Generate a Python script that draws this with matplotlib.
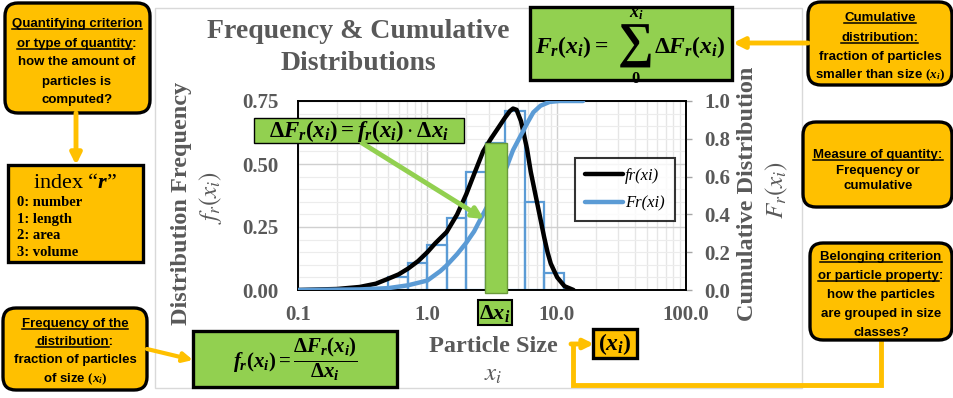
import matplotlib
matplotlib.use('Agg')
import matplotlib.pyplot as plt
from matplotlib.transforms import Affine2D
from matplotlib.patches import FancyBboxPatch, Rectangle, FancyArrowPatch
from matplotlib.lines import Line2D
import numpy as np

# ---------------- data ----------------
bin_edges = [0.5, 0.707, 1.0, 1.414, 2.0, 2.828, 4.0, 5.657, 8.0, 11.31]
bin_freq = [0.05, 0.107, 0.18, 0.286, 0.47, 0.585, 0.71, 0.35, 0.067]
highlight_bin = 5

fr_x = [0.1, 0.2, 0.3, 0.4, 0.5, 0.6, 0.71, 0.85, 1.0, 1.15, 1.41, 1.7, 2.0, 2.3, 2.7,
        3.1, 3.55, 4.0, 4.35, 4.6, 4.9, 5.3, 5.9, 6.3, 7.1, 8.0, 8.5, 9.0, 10.1, 11.5, 13.5]
fr_y = [0.0, 0.004, 0.012, 0.025, 0.045, 0.062, 0.085, 0.115, 0.15, 0.185, 0.23, 0.30, 0.38,
        0.46, 0.55, 0.60, 0.645, 0.685, 0.71, 0.72, 0.715, 0.67, 0.56, 0.47, 0.34, 0.21, 0.15,
        0.105, 0.05, 0.015, 0.0]

Fr_x = [0.1, 0.3, 0.5, 0.71, 1.0, 1.26, 1.41, 1.7, 2.0, 2.3, 2.6, 3.0, 3.5, 4.1, 4.6, 5.3,
        6.0, 6.6, 7.5, 8.8, 10.5, 16]
Fr_y = [0.0, 0.003, 0.01, 0.025, 0.05, 0.10, 0.13, 0.19, 0.25, 0.31, 0.38, 0.46, 0.56, 0.65,
        0.74, 0.82, 0.89, 0.94, 0.975, 0.995, 1.0, 1.0]

x_ticks = [0.1, 1, 10, 100]
x_ticklabels = ["0.1", "1.0", "10.0", "100.0"]
left_ticks = [0.0, 0.25, 0.50, 0.75]
left_ticklabels = ["0.00", "0.25", "0.50", "0.75"]
right_ticks = [0.0, 0.2, 0.4, 0.6, 0.8, 1.0]
right_ticklabels = ["0.0", "0.2", "0.4", "0.6", "0.8", "1.0"]

# ---------------- style ----------------
plt.rcParams['mathtext.fontset'] = 'custom'
plt.rcParams['mathtext.rm'] = 'Liberation Serif:bold'
plt.rcParams['mathtext.it'] = 'Liberation Serif:italic:bold'
plt.rcParams['mathtext.bf'] = 'Liberation Serif:bold'

SANS = ['Liberation Sans', 'DejaVu Sans']
SERIF = ['Liberation Serif', 'DejaVu Serif']
ORANGE = '#FFC000'
GREEN = '#92D050'
BLUE = '#5B9BD5'
GRAY = '#595959'

W, H = 954, 398
fig = plt.figure(figsize=(W / 100, H / 100), dpi=100)
fig.patch.set_facecolor('white')
T = Affine2D().scale(1 / W, -1 / H).translate(0, 1) + fig.transFigure

# chart frame
fig.add_artist(Rectangle((155, 8), 647, 380, transform=T, fc='white', ec='#d9d9d9', lw=1, zorder=0))

# ---------------- axes ----------------
ax = fig.add_axes([298 / W, 1 - 290 / H, 388 / W, 189 / H])
ax.set_xscale('log')
ax.set_xlim(0.1, 100)
ax.set_ylim(0, 0.75)
ax.set_facecolor('none')
ax.grid(True, which='major', axis='x', color='#d0d0d0', lw=1.0)
ax.grid(True, which='minor', axis='x', color='#e6e6e6', lw=1.0)
ax.set_yticks(left_ticks)
ax.set_yticklabels(left_ticklabels)
ax.set_yticks(np.arange(0, 0.76, 0.05), minor=True)
ax.grid(True, which='major', axis='y', color='#d0d0d0', lw=1.0)
ax.grid(True, which='minor', axis='y', color='#ececec', lw=0.8)
ax.set_axisbelow(True)
ax.set_xticks(x_ticks)
ax.set_xticklabels(x_ticklabels)
ax.tick_params(axis='both', which='both', length=0)
ax.tick_params(axis='y', pad=14)
ax.tick_params(axis='x', pad=11)
for lab in ax.get_xticklabels() + ax.get_yticklabels():
    lab.set_fontfamily(SERIF)
    lab.set_fontweight('bold')
    lab.set_fontsize(15)
    lab.set_color(GRAY)
for s in ax.spines.values():
    s.set_color('black')
    s.set_linewidth(1.2)

edges = np.array(bin_edges)
ax.bar(edges[:-1], bin_freq, width=np.diff(edges), align='edge', fill=False,
       edgecolor=BLUE, lw=1.6, zorder=2)
l1, = ax.plot(fr_x, fr_y, color='black', lw=3.2, zorder=3, solid_capstyle='round')

ax2 = ax.twinx()
ax2.set_ylim(0, 1.0)
ax2.set_yticks(right_ticks)
ax2.set_yticklabels(right_ticklabels)
ax2.tick_params(axis='y', length=4, width=1, color='#a6a6a6', pad=9)
for lab in ax2.get_yticklabels():
    lab.set_fontfamily(SERIF)
    lab.set_fontweight('bold')
    lab.set_fontsize(15)
    lab.set_color(GRAY)
for s in ax2.spines.values():
    s.set_color('black')
    s.set_linewidth(1.2)
l2, = ax2.plot(Fr_x, Fr_y, color=BLUE, lw=3.2, zorder=3, solid_capstyle='round')

# highlighted green bar
hx0 = bin_edges[highlight_bin]
hx1 = bin_edges[highlight_bin + 1]
ax2.add_patch(Rectangle((hx0 * 0.99, -0.012), hx1 * 1.04 - hx0 * 0.99, bin_freq[highlight_bin] + 0.012,
                        transform=ax.transData, fc=GREEN, ec='#6a9a3a', lw=1.0, clip_on=False, zorder=4))

leg = ax2.legend([l1, l2], ['fr(xi)', 'Fr(xi)'], loc='upper left', bbox_to_anchor=(0.714, 0.70),
                 borderaxespad=0, frameon=True, fancybox=False, handlelength=2.3, handletextpad=0.1,
                 prop=dict(family=SERIF, style='italic', size=12), borderpad=0.6, labelspacing=0.7)
leg.get_frame().set_edgecolor('black')
leg.get_frame().set_linewidth(1.5)
leg.set_zorder(10)

# ---------------- axis titles ----------------
def txt(x, y, s, **kw):
    return fig.text(x, y, s, transform=T, **kw)

txt(358, 38, 'Frequency & Cumulative', ha='center', va='baseline', family=SERIF, weight='bold', size=20, color=GRAY)
txt(358, 70, 'Distributions', ha='center', va='baseline', family=SERIF, weight='bold', size=20, color=GRAY)
txt(493, 352, 'Particle Size', ha='center', va='baseline', family=SERIF, weight='bold', size=17.5, color=GRAY)
txt(493, 381, '$x_i$', ha='center', va='baseline', size=18, color=GRAY, math_fontfamily='stix')
txt(182, 203, 'Distribution Frequency', ha='center', va='center', rotation=90, family=SERIF, weight='bold', size=17.5, color=GRAY)
txt(211, 197, '$f_r(x_i)$', ha='center', va='center', rotation=90, size=18, color=GRAY, math_fontfamily='stix')
txt(748, 194, 'Cumulative Distribution', ha='center', va='center', rotation=90, family=SERIF, weight='bold', size=17.5, color=GRAY)
txt(777, 190, '$F_r(x_i)$', ha='center', va='center', rotation=90, size=18, color=GRAY, math_fontfamily='stix')

# ---------------- boxes ----------------
def rbox(x0, y0, x1, y1, fc, rounded=True, lw=2.4, z=5):
    style = 'round,pad=0,rounding_size=13' if rounded else 'square,pad=0'
    p = FancyBboxPatch((x0, y0), x1 - x0, y1 - y0, boxstyle=style, transform=T,
                       fc=fc, ec='black', lw=lw, zorder=z)
    fig.add_artist(p)
    return p

def arrow(p0, p1, color, lw=3.0, ms=16, z=6):
    a = FancyArrowPatch(p0, p1, transform=T, arrowstyle='-|>', mutation_scale=ms,
                        color=color, lw=lw, zorder=z, shrinkA=0, shrinkB=0)
    fig.add_artist(a)

underlines = []
BS = 9.5
def btxt(x, y, s, ul=None, size=BS, **kw):
    t = txt(x, y, s, ha='center', va='baseline', family=SANS, weight='bold', size=size,
            color='black', zorder=8, **kw)
    if ul is not None:
        underlines.append((t, ul, y))
    return t

XI = r'$\mathbf{(}\mathit{x_i}\mathbf{)}$'

# top-left box
rbox(5, 3, 150, 113, ORANGE)
btxt(77, 27, 'Quantifying criterion', ul='Quantifying criterion')
btxt(77, 47, 'or type of quantity:', ul='or type of quantity')
btxt(77, 65, 'how the amount of')
btxt(77, 85, 'particles is')
btxt(77, 103, 'computed?')
arrow((76, 113), (76, 165), ORANGE, lw=3.5, ms=16)

# index box
rbox(8, 165, 143, 262, ORANGE, rounded=False)
txt(75, 188, 'index “$\\mathit{r}$”', ha='center', va='baseline', family=SERIF, size=16, zorder=8)
for i, s in enumerate(['0: number', '1: length', '2: area', '3: volume']):
    txt(17, 206 + i * 16.7, s, ha='left', va='baseline', family=SERIF, weight='bold', size=10.5, zorder=8)

# bottom-left box
rbox(3, 308, 147, 390, ORANGE)
btxt(75, 327, 'Frequency of the', ul='Frequency of the')
btxt(75, 345, 'distribution:', ul='distribution')
btxt(75, 363, 'fraction of particles')
btxt(75, 382, 'of size ' + XI)
arrow((147, 349), (193, 360), ORANGE, lw=3.0, ms=14)

# bottom green formula box
rbox(193, 331, 397, 387, GREEN, rounded=False)
txt(295, 359, r'$f_r(x_i) = \dfrac{\Delta F_r(x_i)}{\Delta x_i}$', ha='center', va='center', size=15, zorder=8)

# top green formula box
rbox(530, 7, 732, 80, GREEN, rounded=False)
txt(535, 53, r'$F_r(x_i) = $', ha='left', va='baseline', size=17, zorder=8)
txt(636, 46, '∑', ha='center', va='center', family=SERIF, weight='bold', size=36, zorder=8)
txt(636, 17, r'$x_i$', ha='center', va='baseline', size=13, zorder=8)
txt(636, 83, r'$0$', ha='center', va='baseline', size=12, zorder=8)
txt(654, 53, r'$\Delta F_r(x_i)$', ha='left', va='baseline', size=17, zorder=8)

# top-right box
rbox(808, 2, 952, 85, ORANGE)
btxt(880, 21, 'Cumulative', ul='Cumulative')
btxt(880, 41, 'distribution:', ul='distribution:')
btxt(880, 60, 'fraction of particles')
btxt(880, 78, 'smaller than size ' + XI)
arrow((808, 43), (733, 43), ORANGE, lw=3.5, ms=16)

# measure box
rbox(803, 122, 952, 207, ORANGE)
btxt(878, 158, 'Measure of quantity:', ul='Measure of quantity:')
btxt(878, 174, 'Frequency or')
btxt(878, 189, 'cumulative')

# belonging box
rbox(810, 243, 952, 340, ORANGE)
btxt(881, 260, 'Belonging criterion', ul='Belonging criterion')
btxt(881, 279, 'or particle property:', ul='or particle property')
btxt(881, 298, 'how the particles')
btxt(881, 317, 'are grouped in size')
btxt(881, 336, 'classes?')
fig.add_artist(Line2D([881, 881, 573, 573], [340, 385, 385, 344], transform=T, color=ORANGE, lw=3.5,
                      zorder=4, solid_joinstyle='miter'))
arrow((571, 344), (594, 344), ORANGE, lw=3.5, ms=14)

# (x_i) box
rbox(593, 329, 637, 358, ORANGE, rounded=False)
txt(615, 344, r'$(x_i)$', ha='center', va='center', size=17, zorder=8)

# delta x box under axis
rbox(478, 300, 512, 325, GREEN, rounded=False, lw=1.5)
txt(495, 313, r'$\Delta x_i$', ha='center', va='center', size=16, zorder=8)

# inline green formula
rbox(254, 118, 464, 143, GREEN, rounded=False, lw=1.0)
txt(359, 131, r'$\Delta F_r(x_i) = f_r(x_i) \cdot \Delta x_i$', ha='center', va='center', size=16.5, zorder=8)
arrow((362, 143), (484, 219), GREEN, lw=3.5, ms=16)

# underlines
fig.canvas.draw()
renderer = fig.canvas.get_renderer()
for t, ul, y in underlines:
    bb = t.get_window_extent(renderer)
    tmp = fig.text(0, 0, ul, fontproperties=t.get_fontproperties())
    w = tmp.get_window_extent(renderer).width
    tmp.remove()
    x0 = bb.x0
    fig.add_artist(Line2D([x0, x0 + w], [H - y - 2, H - y - 2], transform=None, color='black', lw=1.1, zorder=9))

fig.savefig('out.png', dpi=100, facecolor='white')
